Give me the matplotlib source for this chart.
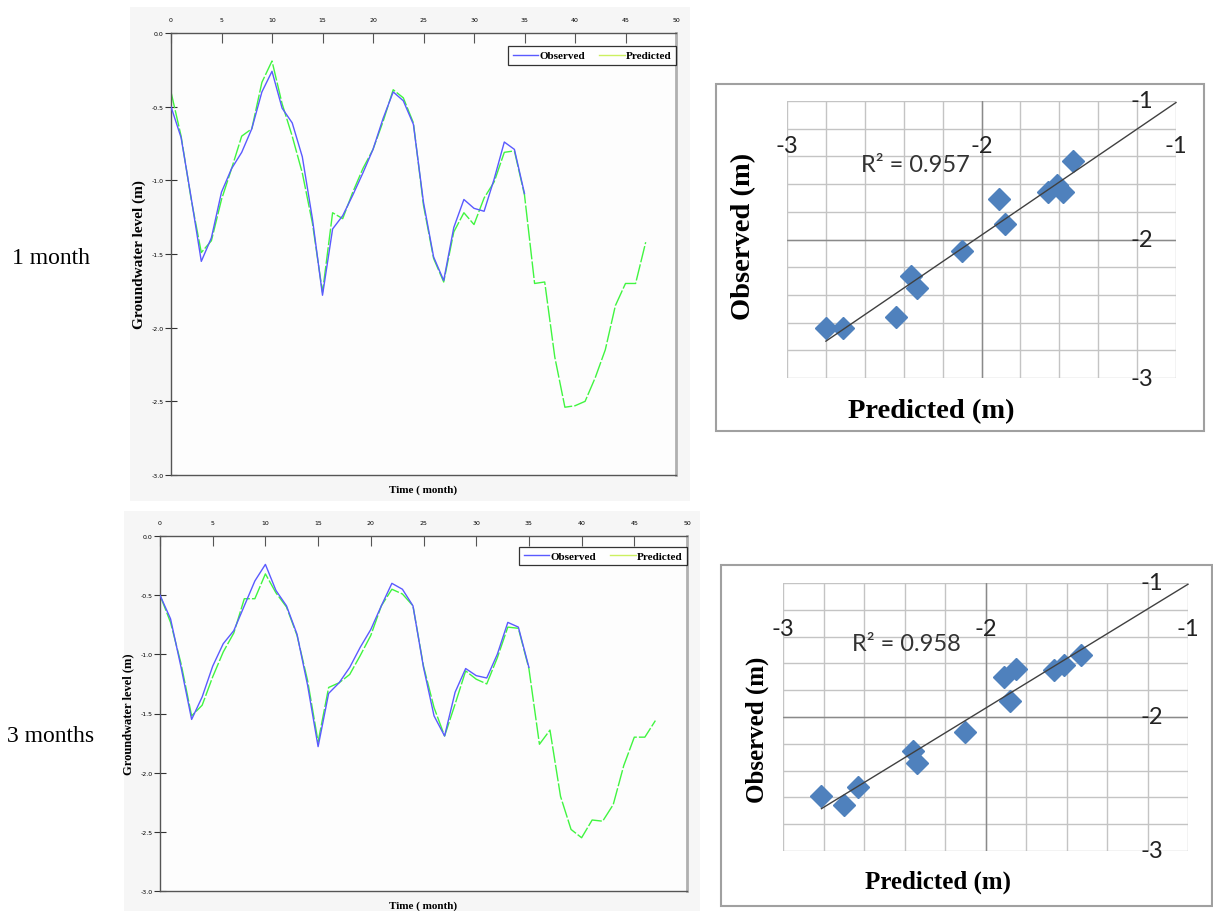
import numpy as np
import matplotlib
matplotlib.use("Agg")
import matplotlib.pyplot as plt
from matplotlib.lines import Line2D
from matplotlib.patches import Rectangle

# ---- data ----
months = np.arange(48)

obs_1m = [-0.50, -0.71, -1.12, -1.55, -1.39, -1.08, -0.92, -0.81, -0.65, -0.40,
          -0.26, -0.51, -0.61, -0.84, -1.26, -1.78, -1.33, -1.24, -1.10, -0.95,
          -0.79, -0.58, -0.40, -0.46, -0.62, -1.15, -1.52, -1.68, -1.32, -1.13,
          -1.19, -1.21, -0.99, -0.74, -0.79, -1.09]
pred_1m = [-0.40, -0.70, -1.13, -1.49, -1.41, -1.13, -0.92, -0.70, -0.65, -0.335,
           -0.19, -0.48, -0.70, -0.95, -1.29, -1.76, -1.22, -1.26, -1.08, -0.92,
           -0.79, -0.60, -0.385, -0.44, -0.61, -1.17, -1.53, -1.69, -1.35, -1.22,
           -1.30, -1.12, -1.01, -0.81, -0.80, -1.10, -1.70, -1.69, -2.20, -2.54,
           -2.53, -2.50, -2.34, -2.15, -1.85, -1.70, -1.70, -1.42]

obs_3m = [-0.50, -0.70, -1.11, -1.55, -1.36, -1.10, -0.91, -0.80, -0.59, -0.38,
          -0.24, -0.46, -0.59, -0.83, -1.26, -1.78, -1.33, -1.24, -1.11, -0.94,
          -0.79, -0.59, -0.40, -0.45, -0.59, -1.11, -1.52, -1.69, -1.32, -1.12,
          -1.18, -1.20, -1.00, -0.73, -0.77, -1.11]
pred_3m = [-0.50, -0.73, -1.08, -1.52, -1.43, -1.19, -0.98, -0.82, -0.53, -0.53,
           -0.32, -0.48, -0.60, -0.84, -1.22, -1.74, -1.28, -1.24, -1.17, -1.01,
           -0.84, -0.59, -0.45, -0.49, -0.59, -1.10, -1.45, -1.69, -1.42, -1.14,
           -1.21, -1.25, -1.03, -0.77, -0.78, -1.12, -1.76, -1.64, -2.20, -2.48,
           -2.55, -2.40, -2.41, -2.27, -1.94, -1.70, -1.70, -1.56]

sc_pred_1m = [-2.80, -2.71, -2.44, -2.36, -2.33, -2.10, -1.91, -1.88, -1.66, -1.61, -1.58, -1.53]
sc_obs_1m = [-2.64, -2.64, -2.56, -2.26, -2.35, -2.08, -1.71, -1.89, -1.66, -1.61, -1.66, -1.43]
sc_pred_3m = [-2.81, -2.70, -2.63, -2.36, -2.34, -2.10, -1.91, -1.85, -1.88, -1.66, -1.61, -1.53]
sc_obs_3m = [-2.59, -2.66, -2.52, -2.25, -2.34, -2.11, -1.70, -1.64, -1.88, -1.65, -1.61, -1.54]

r2_labels = ["R\u00b2 = 0.957", "R\u00b2 = 0.958"]
row_labels = ["1 month", "3 months"]
sc_ticks = [-3, -2, -1]

SERIF = "Liberation Serif"

fig = plt.figure(figsize=(12.13, 9.12), dpi=100, facecolor="white")


def line_panel(rect, obs, pred, bg, ylab_size):
    # light grey panel behind the line chart
    fig.patches.append(Rectangle(bg[:2], bg[2], bg[3], transform=fig.transFigure,
                                 facecolor="#f6f6f6", edgecolor="none", zorder=-5))
    ax = fig.add_axes(rect)
    ax.set_facecolor("#fdfdfd")
    ax.plot(months[:len(obs)], obs, color="#5a5aff", lw=1.0, zorder=3)
    ax.plot(months[:len(pred)], pred, color="#40f540", lw=1.0,
            linestyle=(0, (12, 1.5)), zorder=2)
    ax.set_xlim(0, 50)
    ax.set_ylim(-3, 0)
    ax.set_xticks(np.arange(0, 51, 5))
    ax.set_yticks(np.arange(-3, 0.01, 0.5))
    ax.yaxis.set_major_formatter(plt.FormatStrFormatter("%.1f"))
    ax.xaxis.set_ticks_position("top")
    ax.tick_params(axis="x", direction="in", length=7, width=0.8, color="#555555",
                   labelsize=4.5, pad=8)
    ax.tick_params(axis="y", direction="inout", length=9, width=0.8, color="#333333",
                   labelsize=4.5, pad=1)
    for s in ["top", "left", "bottom"]:
        ax.spines[s].set_color("#555555")
        ax.spines[s].set_linewidth(1.0)
    ax.spines["right"].set_color("#b0b0b0")
    ax.spines["right"].set_linewidth(2.0)
    ax.set_ylabel("Groundwater level (m)", family=SERIF, fontweight="bold",
                  fontsize=ylab_size)
    ax.set_xlabel("Time ( month)", family=SERIF, fontweight="bold", fontsize=8,
                  labelpad=7)
    handles = [Line2D([], [], color="#5a5aff", lw=1.0),
               Line2D([], [], color="#ccf060", lw=1.0)]
    leg = ax.legend(handles, ["Observed", "Predicted"], ncol=2, loc="upper right",
                    bbox_to_anchor=(1.0, 0.97), borderaxespad=0, frameon=True,
                    fancybox=False, edgecolor="black", handlelength=2.3,
                    handletextpad=0.1, columnspacing=1.3,
                    prop={"family": SERIF, "weight": "bold", "size": 8})
    leg.get_frame().set_linewidth(0.9)
    return ax


def scatter_panel(rect, frame, pred, obs, r2, r2_xy, xrow, ycol, lab_size,
                  xlab_pos, ylab_pos):
    fig.patches.append(Rectangle(frame[:2], frame[2], frame[3], transform=fig.transFigure,
                                 facecolor="white", edgecolor="#a0a0a0", lw=1.5, zorder=-5))
    ax = fig.add_axes(rect)
    ax.set_facecolor("none")
    ax.set_xlim(-3, -1)
    ax.set_ylim(-3, -1)
    for v in np.arange(-3, -0.99, 0.2):
        ax.axvline(v, color="#c4c4c4", lw=1.0, zorder=1)
        ax.axhline(v, color="#c4c4c4", lw=1.0, zorder=1)
    ax.axvline(-2, color="#8a8a8a", lw=1.0, zorder=1)
    ax.axhline(-2, color="#8a8a8a", lw=1.0, zorder=1)
    for s in ax.spines.values():
        s.set_visible(False)
    ax.set_xticks([])
    ax.set_yticks([])
    ax.plot(pred, obs, linestyle="none", marker="D", markersize=11,
            color="#4f81bd", zorder=3, clip_on=False)
    k, b = np.polyfit(pred, obs, 1)
    xx = np.array([min(pred), -1.0])
    ax.plot(xx, k * xx + b, color="#404040", lw=1.0, zorder=4, clip_on=False)
    ax.text(r2_xy[0], r2_xy[1], r2, fontsize=17, family="Lato", color="#333333",
            va="center", ha="left", zorder=5)
    for t in sc_ticks:
        ax.text(t, xrow, str(t), fontsize=17, family="Lato",
                color="#222222", ha="center", va="center", clip_on=False)
        ax.text(ycol, t, str(t), fontsize=17, family="Lato",
                color="#222222", ha="center", va="center", clip_on=False)
    ax.set_xlabel("Predicted (m)", family=SERIF, fontweight="bold", fontsize=lab_size,
                  va="center", ha="center")
    ax.set_ylabel("Observed (m)", family=SERIF, fontweight="bold", fontsize=lab_size,
                  va="center", ha="center")
    ax.xaxis.set_label_coords(*xlab_pos)
    ax.yaxis.set_label_coords(*ylab_pos)
    return ax


W, H = 1213.0, 912.0


def fr(x0, y0, x1, y1):
    return [x0 / W, 1 - y1 / H, (x1 - x0) / W, (y1 - y0) / H]


line_panel(fr(171, 34, 676, 476), obs_1m, pred_1m, fr(130, 8, 690, 502), 11)
line_panel(fr(160, 537, 687, 892), obs_3m, pred_3m, fr(124, 512, 700, 912), 9)

scatter_panel(fr(787, 102, 1176, 379), fr(716, 85, 1204, 432),
              sc_pred_1m, sc_obs_1m, r2_labels[0], (-2.62, -1.455), -1.32, -1.175,
              20.5, (0.370, -0.119), (-0.111, 0.513))
scatter_panel(fr(783, 584, 1188, 852), fr(721, 566, 1212, 907),
              sc_pred_3m, sc_obs_3m, r2_labels[1], (-2.66, -1.455), -1.34, -1.18,
              18, (0.383, -0.112), (-0.064, 0.455))

fig.text(51 / W, 1 - 258 / H, row_labels[0], family=SERIF, fontsize=17,
         ha="center", va="center")
fig.text(51 / W, 1 - 737 / H, row_labels[1], family=SERIF, fontsize=17,
         ha="center", va="center")

fig.savefig("out.png", dpi=100, facecolor="white")
